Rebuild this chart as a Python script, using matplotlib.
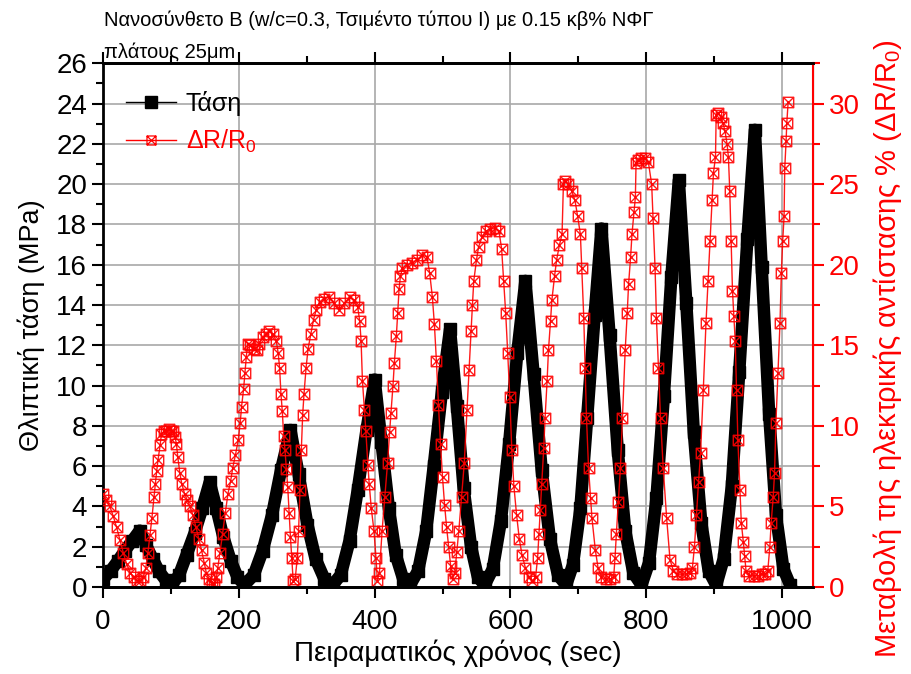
import numpy as np
import matplotlib
matplotlib.use("Agg")
import matplotlib.pyplot as plt
from matplotlib.path import Path
from matplotlib.lines import Line2D
from matplotlib.ticker import MultipleLocator

plt.rcParams['font.family'] = ['Liberation Sans', 'DejaVu Sans']
plt.rcParams['mathtext.fontset'] = 'custom'
plt.rcParams['mathtext.rm'] = 'Liberation Sans'
plt.rcParams['mathtext.it'] = 'Liberation Sans'

# stress (MPa) vs time (sec)
stress_t = [0, 11, 22, 32, 43, 54, 63, 73, 82, 92,
            101, 112, 123, 135, 146, 157, 167, 177, 188, 198,
            208, 222, 235, 249, 262, 276, 288, 301, 313, 326,
            338, 350, 363, 375, 388, 400, 410, 421, 431, 442,
            452, 464, 476, 487, 499, 511, 521, 531, 542, 552,
            562, 574, 586, 598, 610, 622, 634, 646, 658, 670,
            682, 692, 703, 713, 724, 734, 746, 758, 769, 781,
            793, 804, 815, 826, 837, 848, 859, 870, 881, 892,
            903, 914, 926, 937, 949, 960, 970, 981, 991, 1002, 1012]
stress_mpa = [0.4, 0.8, 1.3, 1.8, 2.3, 2.8, 2.1, 1.4, 0.8, 0.35,
              0.1, 0.6, 1.6, 2.7, 3.9, 5.2, 3.9, 2.5, 1.3, 0.5,
              0.1, 0.6, 1.8, 3.6, 5.8, 7.8, 5.6, 3.1, 1.4, 0.4,
              0.1, 0.6, 2.3, 4.8, 7.8, 10.3, 7.2, 3.9, 1.6, 0.4,
              0.1, 0.8, 2.8, 6.0, 9.7, 12.8, 9.0, 4.9, 2.0, 0.5,
              0.1, 0.9, 3.3, 7.1, 11.6, 15.2, 10.6, 5.8, 2.4, 0.6,
              0.1, 1.1, 3.9, 8.4, 13.5, 17.8, 12.5, 6.8, 2.8, 0.7,
              0.1, 1.2, 4.4, 9.5, 15.4, 20.2, 14.1, 7.7, 3.2, 0.8,
              0.1, 1.4, 5.0, 10.7, 17.3, 22.7, 15.9, 8.6, 3.6, 0.9, 0.1]

# change of electrical resistance (%) vs time (sec)
dr_t = [0, 5, 10, 15, 20, 25, 30, 35, 40, 45, 50, 55, 59, 63, 66, 69, 72, 75, 77, 79,
        81, 84, 86, 90, 93, 97, 100, 103, 106, 108, 110, 113, 116, 120, 124, 128, 132, 137, 141, 145,
        149, 152, 156, 160, 164, 167, 169, 172, 176, 180, 184, 188, 191, 195, 199, 202, 204, 207, 209, 211,
        213, 217, 222, 226, 230, 235, 240, 245, 250, 255, 258, 260, 262, 264, 266, 268, 270, 272, 274, 276,
        278, 280, 283, 286, 288, 290, 292, 294, 296, 299, 302, 306, 310, 314, 319, 325, 333, 340, 348, 355,
        363, 370, 375, 378, 380, 382, 385, 387, 390, 392, 395, 399, 402, 404, 407, 411, 415, 419, 422, 424,
        427, 429, 432, 434, 436, 438, 441, 448, 455, 462, 470, 477, 481, 485, 488, 491, 494, 497, 500, 503,
        506, 509, 512, 515, 518, 521, 524, 528, 532, 536, 539, 542, 544, 546, 550, 553, 558, 564, 570, 577,
        583, 587, 590, 593, 596, 599, 602, 605, 609, 613, 617, 622, 627, 632, 637, 640, 642, 644, 646, 649,
        651, 654, 656, 659, 661, 665, 668, 672, 676, 678, 681, 685, 690, 695, 699, 703, 705, 708, 710, 712,
        715, 718, 720, 725, 729, 734, 740, 746, 752, 754, 756, 759, 762, 765, 769, 772, 774, 777, 779, 782,
        784, 785, 788, 793, 798, 803, 808, 810, 813, 815, 818, 821, 825, 830, 835, 840, 846, 852, 858, 864,
        868, 871, 874, 877, 880, 884, 888, 891, 894, 897, 899, 902, 903, 906, 910, 913, 916, 919, 921, 923,
        925, 927, 929, 931, 933, 935, 938, 940, 943, 945, 947, 952, 958, 964, 970, 975, 979, 982, 984, 987,
        989, 991, 994, 997, 999, 1001, 1003, 1004, 1006, 1007, 1009]
dr_pct = [5.8, 5.4, 5.0, 4.4, 3.7, 2.9, 2.1, 1.4, 0.9, 0.6, 0.4, 0.4, 0.6, 1.2, 2.1, 3.2, 4.3, 5.6, 6.4, 7.2,
          7.9, 8.8, 9.5, 9.7, 9.7, 9.8, 9.7, 9.7, 9.3, 8.9, 8.1, 7.1, 6.4, 5.8, 5.4, 5.0, 4.5, 3.7, 3.0, 2.3,
          1.5, 0.9, 0.5, 0.2, 0.2, 0.6, 1.2, 2.1, 3.3, 4.6, 5.8, 6.6, 7.4, 8.2, 9.1, 10.2, 11.2, 12.3, 13.3, 14.3,
          15.1, 15.0, 14.8, 14.7, 15.1, 15.5, 15.7, 15.9, 15.7, 15.3, 14.5, 13.6, 12.0, 10.9, 9.4, 8.5, 7.3, 6.2, 4.6, 3.1,
          1.8, 0.4, 0.5, 1.8, 3.5, 6.0, 8.5, 10.7, 12.0, 13.6, 14.8, 15.7, 16.6, 17.2, 17.7, 17.9, 18.0, 17.6, 17.2, 17.6,
          18.0, 17.8, 17.4, 16.5, 15.3, 12.8, 11.0, 9.7, 7.6, 6.4, 4.9, 3.5, 1.8, 0.4, 0.9, 3.5, 5.6, 7.7, 9.6, 10.8,
          12.5, 13.9, 15.6, 17.0, 18.5, 19.3, 19.8, 20.0, 20.1, 20.3, 20.6, 20.5, 19.5, 18.0, 16.3, 14.0, 11.3, 8.9, 6.8, 5.1,
          3.7, 2.5, 1.3, 0.5, 0.9, 2.2, 3.5, 5.6, 7.7, 11.0, 13.5, 15.9, 17.5, 19.0, 20.3, 21.1, 21.7, 22.1, 22.2, 22.3,
          22.1, 21.0, 19.0, 17.0, 14.5, 11.8, 8.5, 6.3, 4.5, 3.0, 2.0, 1.2, 0.6, 0.4, 0.6, 1.8, 3.3, 4.8, 6.4, 8.6,
          10.5, 12.8, 14.7, 16.5, 17.8, 19.3, 20.3, 21.2, 21.9, 25.0, 25.2, 25.0, 24.6, 24.0, 23.0, 21.9, 19.8, 16.7, 13.6, 10.5,
          7.4, 5.5, 4.3, 2.3, 1.2, 0.6, 0.5, 0.5, 0.6, 1.8, 3.3, 5.3, 7.4, 10.5, 14.7, 17.0, 18.8, 20.5, 21.9, 23.3,
          24.2, 26.3, 26.5, 26.6, 26.6, 26.4, 25.0, 22.9, 19.8, 16.7, 13.6, 10.5, 7.4, 4.3, 1.7, 1.0, 0.8, 0.8, 0.8, 0.9,
          1.2, 2.5, 4.5, 6.5, 8.3, 12.2, 16.4, 19.0, 21.5, 24.0, 25.7, 26.7, 29.3, 29.4, 29.2, 28.8, 28.3, 27.5, 26.7, 24.6,
          21.5, 18.4, 16.8, 15.3, 12.2, 9.1, 6.0, 4.0, 2.8, 1.9, 1.0, 0.7, 0.7, 0.7, 0.8, 0.8, 1.0, 2.5, 4.0, 5.6,
          7.1, 10.2, 13.3, 16.4, 19.5, 21.5, 23.0, 26.0, 27.7, 28.8, 30.1]

# crossed-square marker
box_x = Path([(-1, -1), (1, -1), (1, 1), (-1, 1), (-1, -1), (-1, -1), (1, 1), (-1, 1), (1, -1)],
             [Path.MOVETO, Path.LINETO, Path.LINETO, Path.LINETO, Path.CLOSEPOLY,
              Path.MOVETO, Path.LINETO, Path.MOVETO, Path.LINETO])

fig = plt.figure(figsize=(9.12, 6.74), dpi=100)
ax = fig.add_axes([0.113, 0.129, 0.778, 0.777])
ax2 = ax.twinx()

ax.grid(True, color='#a8a8a8', linewidth=1.2)
ax.set_axisbelow(True)

ax.plot(stress_t, stress_mpa, color='black', lw=9, solid_joinstyle='round',
        marker='s', ms=8.5, zorder=3)
ax2.plot(dr_t, dr_pct, color='red', lw=1, marker=box_x, ms=7.5, mfc='none',
         mec='red', mew=1.0, alpha=0.9)

ax.set_xlim(0, 1045)
ax.set_ylim(0, 26)
ax2.set_ylim(0, 32.5)

ax.xaxis.set_major_locator(MultipleLocator(200))
ax.xaxis.set_minor_locator(MultipleLocator(100))
ax.yaxis.set_major_locator(MultipleLocator(2))
ax.yaxis.set_minor_locator(MultipleLocator(1))
ax2.yaxis.set_major_locator(MultipleLocator(5))
ax2.yaxis.set_minor_locator(MultipleLocator(2.5))

ax.tick_params(axis='both', which='major', direction='out', length=8, width=1.5,
               labelsize=20, top=True)
ax.tick_params(axis='both', which='minor', direction='out', length=5, width=1.5, top=True)
ax.tick_params(axis='x', pad=8)
ax2.tick_params(axis='y', which='major', direction='out', length=8, width=1.5,
                colors='red', labelsize=20)
ax2.tick_params(axis='y', which='minor', direction='out', length=5, width=1.5, colors='red')

for s in ['left', 'bottom', 'top']:
    ax.spines[s].set_linewidth(2)
ax2.spines['right'].set_color('red')
ax2.spines['right'].set_linewidth(1.5)
ax2.spines['left'].set_visible(False)
ax2.spines['top'].set_linewidth(2)
ax2.spines['bottom'].set_linewidth(2)

ax.set_xlabel('Πειραματικός χρόνος (sec)', fontsize=20, labelpad=3)
ax.set_ylabel('Θλιπτική τάση (MPa)', fontsize=19.5, labelpad=8)
ax2.set_ylabel('Μεταβολή της ηλεκτρικής αντίστασης % (ΔR/R$_0$)', fontsize=21,
               color='red')
ax2.yaxis.set_label_coords(1.083, 0.455)

fig.text(0.114, 0.985, 'Νανοσύνθετο Β (w/c=0.3, Τσιμέντο τύπου Ι) με 0.15 κβ% ΝΦΓ\nπλάτους 25μm',
         fontsize=14.5, ha='left', va='top', linespacing=1.8)

h1 = Line2D([], [], color='black', lw=1, marker='s', ms=8)
h2 = Line2D([], [], color='red', lw=1, marker=box_x, ms=6.5, mfc='none', mew=0.9)
leg = ax2.legend([h1, h2], ['Τάση', 'ΔR/R$_0$'], loc='upper left', bbox_to_anchor=(0.0, 0.99),
                 frameon=False, fontsize=18, handlelength=2.0, labelspacing=0.45,
                 handletextpad=0.4)
leg.get_texts()[1].set_color('red')

fig.savefig('out.png', dpi=100)
